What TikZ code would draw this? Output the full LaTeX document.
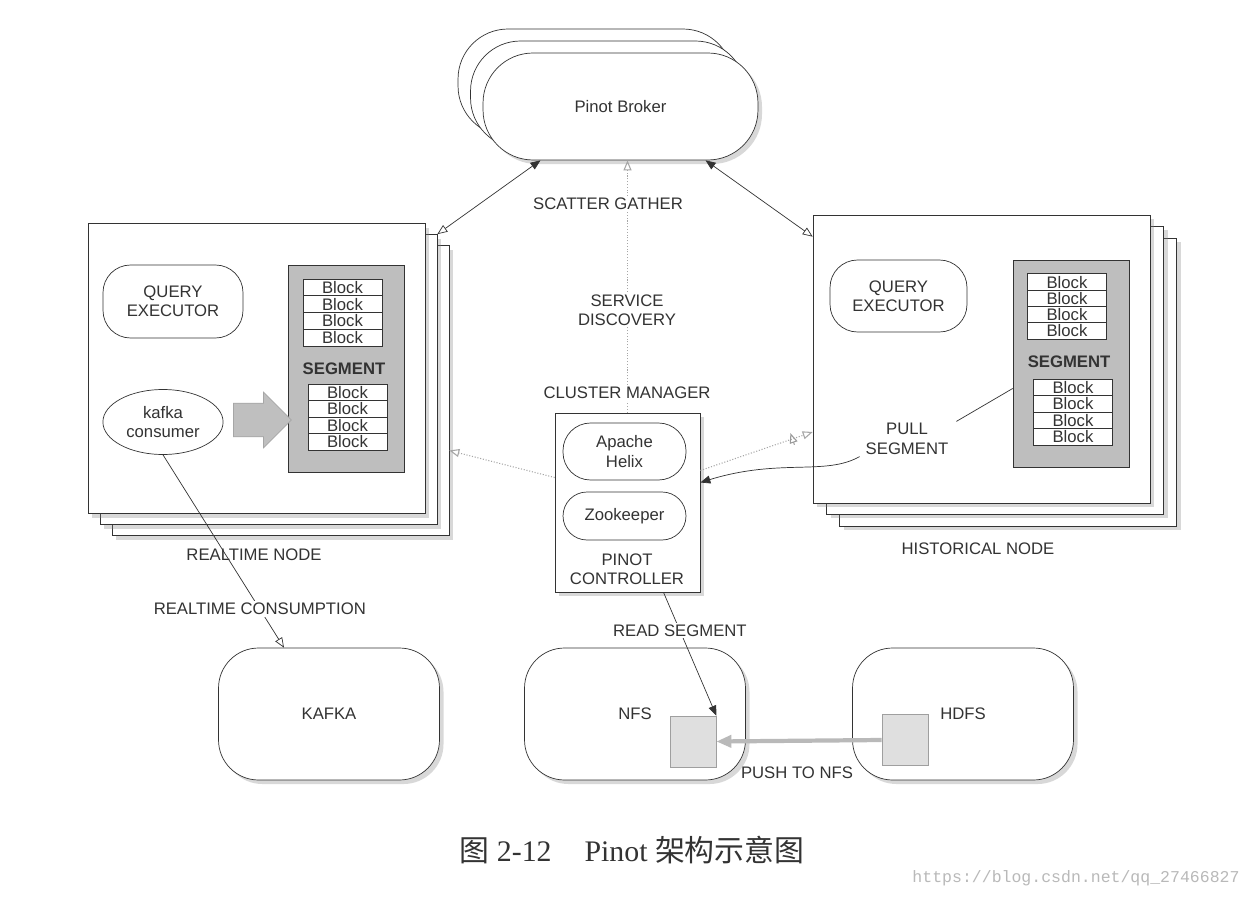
\documentclass[tikz,border=0pt]{standalone}
\usepackage{fontspec}
\setmainfont{Liberation Serif}
\setsansfont{Liberation Sans}
\setmonofont{Liberation Mono}
\newfontfamily\cjkfont{Noto Sans CJK SC}
\usetikzlibrary{arrows.meta}
\usetikzlibrary{shapes.geometric,shapes.arrows}
\usetikzlibrary{shadows}
\usetikzlibrary{calc}
\usetikzlibrary{decorations.markings}

\definecolor{ink}{HTML}{333333}
\definecolor{segfill}{HTML}{BEBEBE}

\tikzset{
	txt/.style={font=\sffamily\fontsize{9.5}{11}\selectfont, text=ink, align=center},
	lbl/.style={txt, inner sep=1pt},
	broker/.style={draw=ink, fill=white, rounded corners=1cm, minimum width=5.5cm, minimum height=2.14cm, drop shadow={opacity=0.3}, txt},
	plate/.style={draw=ink, fill=white, minimum width=6.74cm, minimum height=5.8cm, drop shadow={opacity=0.3}},
	pill/.style={draw=ink, fill=white, rounded corners=0.55cm, txt},
	segbox/.style={draw=ink, fill=segfill, minimum width=2.32cm, minimum height=4.14cm},
	blockbox/.style={draw=ink, fill=white, minimum width=1.58cm, minimum height=0.335cm, inner sep=0pt, font=\sffamily\fontsize{9.5}{10}\selectfont, text=ink},
	store/.style={draw=ink, fill=white, rounded corners=0.8cm, minimum width=4.42cm, minimum height=2.64cm, drop shadow={opacity=0.3}, txt},
	chunk/.style={draw=gray!75, fill=gray!25, minimum width=0.92cm, minimum height=1.02cm},
	dotline/.style={draw=gray!70, densely dotted, line width=0.6pt},
	opentip/.style={-{Triangle[open, length=2mm, width=1.6mm]}},
	fulltip/.style={-{Triangle[length=2mm, width=1.6mm]}},
	tickmark/.style={postaction={decorate}, decoration={markings, mark=at position 0.82 with {\draw[gray!80, solid, line width=0.6pt] (0,-3.5pt) -- (0,3.5pt);}}}
}

\begin{document}
\begin{tikzpicture}[x=0.02cm, y=-0.02cm]
	\fill[white] (0,0) rectangle (1253,898);
	\useasboundingbox (0,0) rectangle (1253,898);

	% broker stack
	\node[broker] (brokerb) at (595.5,82.5) {};
	\node[broker] (brokerm) at (608,94.5) {};
	\node[broker] (broker) at (620.5,106.5) {Pinot Broker};

	% realtime node
	\node[plate] (lback) at (280.5,390.5) {};
	\node[plate] (lmid) at (268.5,379.5) {};
	\node[plate] (lnode) at (256.5,368.5) {};
	\node[pill, minimum width=2.8cm, minimum height=1.46cm] (lqe) at (173,301.5) {QUERY\\EXECUTOR};
	\node[segbox] (lseg) at (346,368.5) {};
	\node[lbl, font=\sffamily\bfseries\fontsize{9.5}{11}\selectfont] (lsegtxt) at (344,369) {SEGMENT};
	\foreach \i in {0,...,3}{
		\node[blockbox] (lbt\i) at (342.5,{287.4+16.75*\i}) {Block};
		\node[blockbox] (lbb\i) at (347.5,{392.25+16.5*\i}) {Block};
	}
	\node[draw=ink, fill=white, ellipse, minimum width=2.4cm, minimum height=1.3cm, txt] (kcons) at (163,422) {kafka\\consumer};
	\node[single arrow, fill=gray!50, draw=gray!70, minimum height=1.16cm, inner sep=0.33cm, single arrow head extend=0.22cm] (feed) at (254,420) {};
	\node[lbl] (rtnode) at (254,555) {REALTIME NODE};

	% historical node
	\node[plate, minimum height=5.76cm] (rback) at (1008,382) {};
	\node[plate, minimum height=5.76cm] (rmid) at (995,370) {};
	\node[plate, minimum height=5.76cm] (rnode) at (981.5,359) {};
	\node[pill, minimum width=2.74cm, minimum height=1.44cm] (rqe) at (898.5,296) {QUERY\\EXECUTOR};
	\node[segbox] (rseg) at (1071,363.5) {};
	\node[lbl, font=\sffamily\bfseries\fontsize{9.5}{11}\selectfont] (rsegtxt) at (1069,362) {SEGMENT};
	\foreach \i in {0,...,3}{
		\node[blockbox] (rbt\i) at (1067,{282.1+16.25*\i}) {Block};
		\node[blockbox] (rbb\i) at (1073,{387.25+16.5*\i}) {Block};
	}
	\node[lbl] (pull) at (907,439) {PULL\\SEGMENT};
	\node[lbl] (hsnode) at (978,549) {HISTORICAL NODE};

	% controller
	\node[draw=ink, fill=white, minimum width=2.9cm, minimum height=3.58cm, drop shadow={opacity=0.3}] (ctrl) at (627.5,502.5) {};
	\node[pill, minimum width=2.46cm, minimum height=1.14cm] (helix) at (624.5,451.5) {Apache\\Helix};
	\node[pill, rounded corners=0.48cm, minimum width=2.46cm, minimum height=0.96cm] (zk) at (624.5,516) {Zookeeper};
	\node[lbl] (ctrltxt) at (627,569) {PINOT\\CONTROLLER};

	% storage
	\node[store] (kafka) at (329,714) {KAFKA};
	\node[store] (nfs) at (635,714) {NFS};
	\node[store] (hdfs) at (963,714) {HDFS};
	\node[chunk] (nsq) at (693,741.5) {};
	\node[chunk] (hsq) at (905,740) {};

	% connectors
	\draw[ink, {Triangle[open, length=2mm, width=1.6mm]}-{Triangle[length=2mm, width=1.6mm]}] (lmid.north east) -- ($(broker.south)+(-80,0)$);
	\draw[ink, {Triangle[length=2mm, width=1.6mm]}-{Triangle[open, length=2mm, width=1.6mm]}] ($(broker.south)+(85,0)$) -- ($(rnode.north west)+(0,22)$);
	\draw[dotline, opentip] (ctrl.north) -- (ctrl.north |- broker.south);
	\draw[dotline, opentip] ($(ctrl.west)+(0,-25)$) -- ($(lback.east)+(0,60)$);
	\draw[dotline, tickmark, opentip] ($(ctrl.east)+(0,-32)$) -- ($(rnode.west)+(0,73)$);
	\node[lbl, fill=white] (scatter) at (608,204) {SCATTER GATHER};
	\node[lbl, fill=white] (svc) at (627,310) {SERVICE\\DISCOVERY};
	\node[lbl, fill=white] (clm) at (627,393) {CLUSTER MANAGER};

	\draw[ink, fulltip] ($(pull.south west)+(-4,0)$) .. controls (825,476) and (780,458) .. ($(ctrl.east)+(0,-20)$);
	\draw[ink] ($(pull.north east)+(6,0)$) -- ($(rseg.west)+(0,25)$);
	\draw[ink, opentip] (kcons.south) -- ($(kafka.north)+(-45,0)$) node[lbl, fill=white, pos=0.8] (rtcons) {REALTIME CONSUMPTION};
	\draw[ink, fulltip] ($(ctrl.south)+(36,0)$) -- (nsq.north east) node[lbl, fill=white, pos=0.31] (readseg) {READ SEGMENT};
	\draw[gray!55, line width=2.4pt, -{Triangle[length=3mm, width=2.4mm]}] (hsq.west) -- (nsq.east);
	\node[lbl] (push) at (797,773) {PUSH TO NFS};

	% caption
	\node[font=\fontsize{17}{20}\selectfont, text=ink] (cap) at (632,850) {{\cjkfont 图}~2-12\hspace{1.1em}Pinot~{\cjkfont 架构示意图}};
	\node[font=\ttfamily\fontsize{9.4}{11}\selectfont, text=gray!55] (wm) at (1076,878) {https://blog.csdn.net/qq\_27466827};
\end{tikzpicture}
\end{document}
